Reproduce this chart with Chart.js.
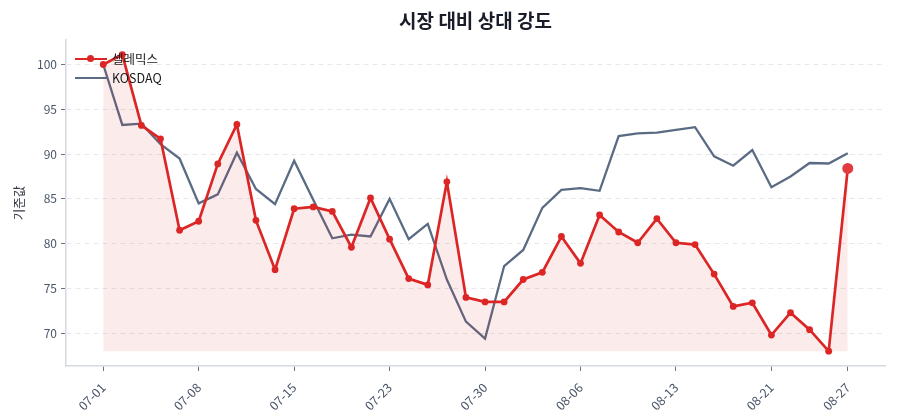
<!DOCTYPE html>
<html>
<head>
<meta charset="utf-8">
<script src="https://cdn.jsdelivr.net/npm/chart.js@4.4.1/dist/chart.umd.min.js"></script>
<style>
  html, body { margin: 0; padding: 0; background: #ffffff; }
  #wrap { position: relative; width: 900px; height: 420px; }
  #legend { position: absolute; left: 75px; top: 49px; font-family: 'Noto Sans CJK KR', 'Noto Sans', sans-serif; font-size: 12.5px; color: #1a1a1a; }
  .item { display: flex; align-items: center; height: 19px; }
  .mark { position: relative; width: 32px; height: 12px; margin-right: 5px; }
  .mark .ln { position: absolute; left: 0; right: 0; top: 5px; height: 2.5px; }
  .mark .dot { position: absolute; left: 12px; top: 2.5px; width: 7px; height: 7px; border-radius: 50%; }
</style>
</head>
<body>
<div id="wrap">
  <canvas id="c"></canvas>
  <div id="legend">
    <div class="item"><div class="mark"><div class="ln" style="background:#dc2626"></div><div class="dot" style="background:#dc2626"></div></div><span id="lg0"></span></div>
    <div class="item"><div class="mark"><div class="ln" style="background:#5b6b84"></div></div><span id="lg1"></span></div>
  </div>
</div>
<script>
const dates = ['07-01','07-02','07-03','07-04','07-07','07-08','07-09','07-10','07-11','07-14',
  '07-15','07-16','07-17','07-18','07-21','07-23','07-24','07-25','07-28','07-29',
  '07-30','07-31','08-01','08-04','08-05','08-06','08-07','08-08','08-11','08-12',
  '08-13','08-14','08-18','08-19','08-20','08-21','08-22','08-25','08-26','08-27'];
const stockName = '셀레믹스';
const indexName = 'KOSDAQ';
const stockValues = [100.0,101.1,93.2,91.7,81.5,82.5,88.9,93.3,82.6,77.1,
  83.9,84.1,83.6,79.6,85.1,80.5,76.1,75.4,86.9,74.0,
  73.5,73.5,76.0,76.8,80.8,77.8,83.2,81.3,80.1,82.8,
  80.1,79.9,76.6,73.0,73.4,69.8,72.3,70.4,68.0,88.4];
const indexValues = [100.0,93.25,93.4,91.1,89.5,84.5,85.5,90.15,86.1,84.4,
  89.25,84.9,80.6,81.0,80.8,85.0,80.5,82.2,76.0,71.3,
  69.4,77.5,79.3,84.0,86.0,86.2,85.9,92.0,92.3,92.4,
  92.7,93.0,89.74,88.7,90.45,86.3,87.5,89.0,88.95,90.1];
const xTickIdx = [0,5,10,15,20,25,30,35,39];
const yTicks = [70,75,80,85,90,95,100];
const titleText = '시장 대비 상대 강도';
const yTitle = '기준값';

document.getElementById('lg0').textContent = stockName;
document.getElementById('lg1').textContent = indexName;

const FONT = "'Noto Sans CJK KR', 'Noto Sans', sans-serif";
const last = stockValues.length - 1;
const stockMin = Math.min(...stockValues);
const allVals = stockValues.concat(indexValues);
const vMin = Math.min(...allVals), vMax = Math.max(...allVals);
const vPad = (vMax - vMin) * 0.05;
const xPad = last * 0.05;

new Chart(document.getElementById('c'), {
  type: 'line',
  data: {
    datasets: [
      {
        label: stockName,
        data: stockValues.map((v, i) => ({x: i, y: v})),
        borderColor: '#dc2626',
        borderWidth: 2.7,
        backgroundColor: 'rgba(220,38,38,0.09)',
        fill: {value: stockMin},
        pointRadius: c => c.dataIndex === last ? 5.5 : 3.4,
        pointBackgroundColor: c => c.dataIndex === last ? '#e23b3f' : '#dc2626',
        pointBorderWidth: 0,
        tension: 0,
        order: 1
      },
      {
        label: indexName,
        data: indexValues.map((v, i) => ({x: i, y: v})),
        borderColor: '#5b6b84',
        borderWidth: 2.3,
        pointRadius: 0,
        fill: false,
        tension: 0,
        order: 2
      }
    ]
  },
  options: {
    responsive: true,
    maintainAspectRatio: false,
    animation: false,
    devicePixelRatio: 1,
    layout: { padding: { left: 12, right: 15, top: 0, bottom: 0 } },
    plugins: {
      legend: { display: false },
      tooltip: { enabled: false },
      title: {
        display: true,
        text: titleText,
        fullSize: false,
        color: '#1a1d29',
        font: { family: FONT, size: 19, weight: 'bold' },
        padding: { top: 9, bottom: 8 }
      }
    },
    scales: {
      x: {
        type: 'linear',
        min: -xPad,
        max: last + xPad,
        afterBuildTicks: s => { s.ticks = xTickIdx.map(v => ({value: v})); },
        afterFit: s => { s.height = 54; },
        grid: { display: true, drawOnChartArea: false, drawTicks: true, tickLength: 5, tickColor: '#6b7280', tickWidth: 1 },
        border: { display: true, color: '#d5d9e0', width: 1.5 },
        ticks: {
          autoSkip: false,
          minRotation: 45,
          maxRotation: 45,
          padding: 9,
          color: '#4a5568',
          font: { family: FONT, size: 12.5 },
          callback: v => dates[v]
        }
      },
      y: {
        min: vMin - vPad,
        max: vMax + vPad,
        afterBuildTicks: s => { s.ticks = yTicks.map(v => ({value: v})); },
        afterFit: s => { s.width = 54; },
        grid: { display: true, color: '#e6e8ec', lineWidth: 1, drawTicks: true, tickLength: 5, tickColor: '#6b7280', tickWidth: 1, tickBorderDash: [] },
        border: { display: true, color: '#d5d9e0', width: 1.5, dash: [5, 4] },
        title: { display: true, text: yTitle, color: '#333842', font: { family: FONT, size: 12.5 }, padding: { top: 0, bottom: 4 } },
        ticks: {
          padding: 4,
          color: '#4a5568',
          font: { family: FONT, size: 12 },
          callback: v => String(v)
        }
      }
    }
  }
});
</script>
</body>
</html>
